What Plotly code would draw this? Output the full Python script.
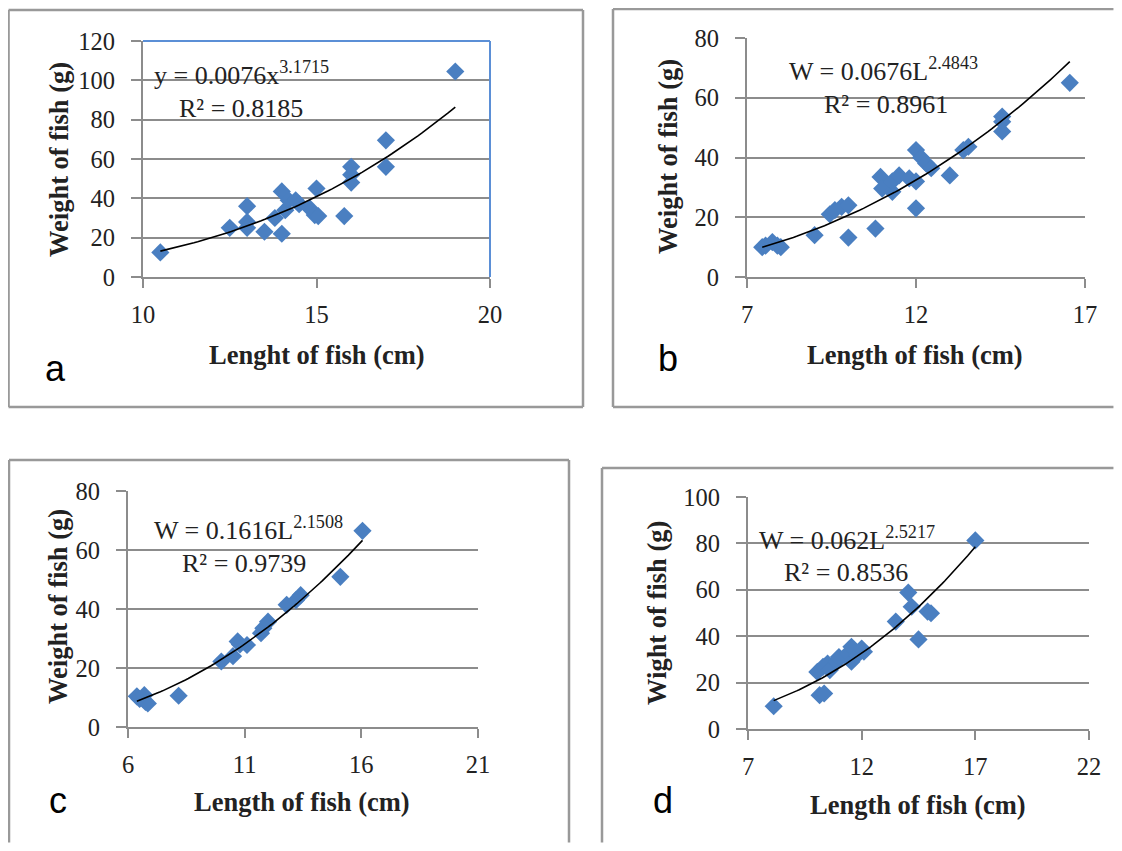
import numpy as np
import plotly.graph_objects as go

# ---------------- data ----------------
a_len = [10.5, 12.5, 13.0, 13.0, 13.0, 13.5, 13.8, 14.0, 14.0, 14.1, 14.2, 14.4, 14.5, 14.8, 14.95, 15.05, 15.0, 15.8, 16.0, 16.0, 16.0, 17.0, 17.0, 19.0]
a_wt = [12.5, 25, 36, 28, 25, 23, 30, 22, 43.5, 34, 39, 39, 37, 35, 31.5, 31, 45, 31, 56, 52, 48, 69.5, 56, 104.5]

b_len = [7.45, 7.55, 7.75, 7.9, 8.0, 9.0, 9.45, 9.6, 9.8, 10.0, 10.0, 10.8, 10.95, 11.0, 11.3, 11.3, 11.5, 11.8, 12.0, 12.0, 12.0, 12.15, 12.3, 12.45, 13.0, 13.4, 13.55, 14.55, 14.55, 14.55, 16.55]
b_wt = [10, 10.5, 11.7, 10.5, 10, 14, 21, 22.4, 23.5, 24, 13.2, 16.2, 33.5, 29.6, 28.5, 32, 34, 33, 42.5, 32, 23, 40, 38, 36.4, 34, 42.5, 43.6, 53.7, 52, 48.7, 65]

c_len = [6.38, 6.5, 6.7, 6.75, 6.85, 8.17, 10.0, 10.5, 10.7, 10.8, 11.1, 11.7, 11.8, 12.0, 12.8, 13.2, 13.4, 15.1, 16.05]
c_wt = [10.4, 9.5, 10.8, 8.5, 8.0, 10.6, 22.2, 24, 29, 28, 27.8, 31.8, 33.5, 35.7, 41.4, 43, 44.7, 50.9, 66.5]

d_len = [8.13, 10.05, 10.15, 10.35, 10.3, 10.5, 10.6, 10.9, 11.0, 11.4, 11.55, 11.55, 11.8, 12.0, 12.1, 13.5, 14.05, 14.2, 14.5, 14.9, 15.05, 17.0]
d_wt = [9.8, 24.6, 14.6, 15.3, 26.8, 28.2, 25.4, 29, 31, 32.6, 35.4, 29, 31.8, 34.7, 33.3, 46.3, 58.8, 52.7, 38.6, 50.6, 49.9, 81.3]

# power-law trendline coefficients shown on each chart (W = k * L^p)
a_fit = (0.0076, 3.1715, 0.8185)
b_fit = (0.0676, 2.4843, 0.8961)
c_fit = (0.1616, 2.1508, 0.9739)
d_fit = (0.062, 2.5217, 0.8536)

a_xticks = [10, 15, 20]
b_xticks = [7, 12, 17]
c_xticks = [6, 11, 16, 21]
d_xticks = [7, 12, 17, 22]

a_yrange = [0, 120]
b_yrange = [0, 80]
c_yrange = [0, 80]
d_yrange = [0, 100]

# the page body keeps an 8px margin, so the figure is 16px smaller than the window
OFF = 8
W, H = 1122 - 2 * OFF, 851 - 2 * OFF
def px(p):
    return min(max((p - OFF) / W, 0.0005), 0.9995)
def py(p):
    return min(max(1 - (p - OFF) / H, 0.0005), 0.9995)

GRID = "#8c8c8c"
BLUE = "#4a7fc1"
SERIF = "Liberation Serif"
TICK = 24.5
TITLE = 26.5
EQ = 26

# box edges: (left, right, top, bottom); None = edge lies outside the picture
panels = [
    dict(x=a_len, y=a_wt, fit=a_fit, xt=a_xticks, yr=a_yrange, dt=20, letter="a",
         xtitle="Lenght of fish (cm)", ytitle="Weight of fish (g)", eqvar="y", eqx="x",
         dom=(143, 490, 41, 277), box=(8.5, 583, 10, 407),
         eq=(152, 73), r2=(177, 108), lab=(55, 368), xtl=(317, 355), ytl=(59, 160)),
    dict(x=b_len, y=b_wt, fit=b_fit, xt=b_xticks, yr=b_yrange, dt=20, letter="b",
         xtitle="Length of fish (cm)", ytitle="Weight of fish (g)", eqvar="W", eqx="L",
         dom=(747, 1085, 38, 277), box=(613, None, 9, 407),
         eq=(787, 70), r2=(822, 105), lab=(668, 358), xtl=(915, 355), ytl=(668, 157)),
    dict(x=c_len, y=c_wt, fit=c_fit, xt=c_xticks, yr=c_yrange, dt=20, letter="c",
         xtitle="Length of fish (cm)", ytitle="Weight of fish (g)", eqvar="W", eqx="L",
         dom=(128, 478, 491, 727), box=(9, 569, 460, None),
         eq=(152, 528), r2=(180, 563), lab=(58, 800), xtl=(302, 802), ytl=(58, 607)),
    dict(x=d_len, y=d_wt, fit=d_fit, xt=d_xticks, yr=d_yrange, dt=20, letter="d",
         xtitle="Length of fish (cm)", ytitle="Wight of fish (g)", eqvar="W", eqx="L",
         dom=(748, 1089, 497, 729), box=(602, None, 468, None),
         eq=(757, 538), r2=(782, 572), lab=(663, 800), xtl=(918, 805), ytl=(657, 613)),
]

fig = go.Figure()
layout = dict(width=W, height=H, margin=dict(l=0, r=0, t=0, b=0, autoexpand=False),
              paper_bgcolor="white", plot_bgcolor="white", showlegend=False)
shapes, annotations = [], []

def seg(x0, y0, x1, y1, color="#999999", width=2.5):
    return dict(type="line", xref="paper", yref="paper", x0=px(x0), x1=px(x1),
                y0=py(y0), y1=py(y1), line=dict(color=color, width=width))

for i, p in enumerate(panels, start=1):
    xa = "x" if i == 1 else f"x{i}"
    ya = "y" if i == 1 else f"y{i}"
    k, e, r2 = p["fit"]
    xs = np.linspace(min(p["x"]), max(p["x"]), 80)
    fig.add_trace(go.Scatter(x=p["x"], y=p["y"], mode="markers", xaxis=xa, yaxis=ya,
                             marker=dict(symbol="diamond", size=14, color=BLUE, line=dict(width=0))))
    fig.add_trace(go.Scatter(x=xs, y=k * xs ** e, mode="lines", xaxis=xa, yaxis=ya,
                             line=dict(color="black", width=1.6)))
    x0, x1, y0, y1 = p["dom"]
    xkey = "xaxis" if i == 1 else f"xaxis{i}"
    ykey = "yaxis" if i == 1 else f"yaxis{i}"
    layout[xkey] = dict(domain=[px(x0), px(x1)], range=[p["xt"][0], p["xt"][-1]],
                        tickvals=p["xt"], anchor=ya, showgrid=False, zeroline=False,
                        showline=True, linecolor=GRID, linewidth=2, ticks="outside",
                        ticklen=9, tickwidth=2, tickcolor=GRID, ticklabelstandoff=6,
                        automargin=False,
                        tickfont=dict(family=SERIF, size=TICK, color="#222"))
    layout[ykey] = dict(domain=[py(y1), py(y0)], range=p["yr"], dtick=p["dt"], anchor=xa,
                        showgrid=True, gridcolor=GRID, gridwidth=2, zeroline=False,
                        showline=True, linecolor=GRID, linewidth=2, ticks="outside",
                        ticklen=10, tickwidth=2, tickcolor=GRID, ticklabelstandoff=11,
                        automargin=False,
                        tickfont=dict(family=SERIF, size=TICK, color="#222"))
    bl, br, bt, bb = p["box"]
    rr = br if br is not None else 1122
    bbm = bb if bb is not None else 851
    shapes.append(seg(bl, bt, rr, bt))
    shapes.append(seg(bl, bt, bl, bbm))
    if br is not None:
        shapes.append(seg(br, bt, br, bbm))
    if bb is not None:
        shapes.append(seg(bl, bb, rr, bb))
    if i == 1:
        # blue plot-area border (top and right)
        shapes.append(seg(x0, y0, x1, y0, color="#5b8fd6", width=2))
        shapes.append(seg(x1, y0, x1, y1, color="#5b8fd6", width=2))
    annotations += [
        dict(text=f"{p['eqvar']} = {k}{p['eqx']}<sup>{e}</sup>", x=px(p["eq"][0]), y=py(p["eq"][1]),
             xref="paper", yref="paper", xanchor="left", yanchor="middle", showarrow=False,
             font=dict(family=SERIF, size=EQ, color="#222")),
        dict(text=f"R² = {r2}", x=px(p["r2"][0]), y=py(p["r2"][1]),
             xref="paper", yref="paper", xanchor="left", yanchor="middle", showarrow=False,
             font=dict(family=SERIF, size=EQ, color="#222")),
        dict(text=p["letter"], x=px(p["lab"][0]), y=py(p["lab"][1]), xref="paper", yref="paper",
             xanchor="center", yanchor="middle", showarrow=False,
             font=dict(family="Liberation Sans", size=36, color="black")),
        dict(text=f"<b>{p['xtitle']}</b>", x=px(p["xtl"][0]), y=py(p["xtl"][1]), xref="paper",
             yref="paper", xanchor="center", yanchor="middle", showarrow=False,
             font=dict(family=SERIF, size=TITLE, color="#222")),
        dict(text=f"<b>{p['ytitle']}</b>", x=px(p["ytl"][0]), y=py(p["ytl"][1]), xref="paper",
             yref="paper", xanchor="center", yanchor="middle", showarrow=False, textangle=-90,
             font=dict(family=SERIF, size=TITLE, color="#222")),
    ]

layout["shapes"] = shapes
layout["annotations"] = annotations
fig.update_layout(**layout)
fig.write_html("out.html")
